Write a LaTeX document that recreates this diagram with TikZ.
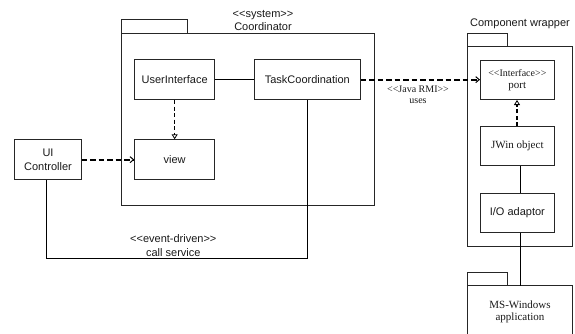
\documentclass[tikz,border=0pt]{standalone}
\usepackage{fontspec}
\setmainfont{Liberation Serif}
\setsansfont{Liberation Sans}
\usetikzlibrary{arrows.meta}
% guillemet-style stereotype brackets, kept as two separate characters
\newcommand\stl{<\kern0pt<}
\newcommand\stg{>\kern0pt>}
\tikzset{
  box/.style={draw=black!85, line width=0.7pt, rectangle, inner sep=0pt, anchor=north west},
  sans/.style={font=\sffamily\fontsize{11}{13.3}\selectfont, align=center, text=black!90},
  serif/.style={font=\rmfamily\fontsize{11}{12}\selectfont, align=center, text=black!90},
  pkg/.style={draw=black!85, line width=0.7pt},
  link/.style={draw=black, line width=0.7pt},
  uses/.style={draw=black, line width=1.7pt, dash pattern=on 5.5pt off 3pt,
    -{Straight Barb[length=3.5pt, width=6pt, line width=1pt]}},
  realize/.style={draw=black, line width=1.1pt, dash pattern=on 4pt off 2.5pt,
    -{Triangle[open, length=5pt, width=6pt, line width=0.8pt]}},
}
\begin{document}
\begin{tikzpicture}[x=1pt, y=-1pt]
\useasboundingbox (0,0) rectangle (575,333);

% Coordinator package
\draw[pkg] (121.5,19.5) rectangle (187.5,33);
\draw[pkg] (121.5,33) rectangle (374,205.5);
\node[sans] (coordtitle) at (263,20.5) {\stl system\stg\\Coordinator};

% Component wrapper package
\draw[pkg] (467.5,33.5) rectangle (507.5,46);
\draw[pkg] (467.5,46) rectangle (572.5,246);
\node[sans] (cwtitle) at (520,24) {Component wrapper};

% MS-Windows application package
\draw[pkg] (467.5,272.5) rectangle (507.5,285.5);
\draw[pkg] (467.5,285.5) rectangle (572.5,340);
\node[serif] (mswin) at (520,311.5) {MS-Windows\\application};

% classes
\node[box, minimum width=80pt, minimum height=40pt, sans] (ui) at (134.3,59.3) {UserInterface};
\node[box, minimum width=106pt, minimum height=40pt, sans] (task) at (254,59.3) {TaskCoordination};
\node[box, minimum width=80pt, minimum height=40pt, sans] (view) at (134.3,139.3) {view};
\node[box, minimum width=66.7pt, minimum height=40pt, sans] (ctrl) at (14.3,139.3) {UI\\Controller};
\node[box, minimum width=74pt, minimum height=39.3pt, serif] (port) at (480,60) {{\fontsize{10}{12}\selectfont\stl Interface\stg}\\port};
\node[box, minimum width=74pt, minimum height=39.3pt, serif] (jwin) at (480,126) {JWin object};
\node[box, minimum width=74pt, minimum height=39.3pt, sans] (io) at (480,192.7) {I/O adaptor};
\coordinate (mstop) at (520.7,285.5);

% connectors
\draw[link] (ui) -- (task);
\draw[realize] (ui) -- (view);
\draw[uses] (ctrl) -- (view);
\draw[uses] (task.east) -- (task.east -| port.west);
\draw[realize] (jwin.north -| 517,0) -- (port.south -| 517,0);
\draw[link] (jwin.south -| 520.7,0) -- (io.north -| 520.7,0);
\draw[link] (io.south -| 520.7,0) -- (mstop);
\draw[link] (task.south -| 307,0) -- (307,258.3) -- (46.7,258.3) -- (ctrl.south -| 46.7,0);

% connector labels
\node[serif, font=\rmfamily\fontsize{10}{10.5}\selectfont] (rmi) at (418,95) {\stl Java RMI\stg\\uses};
\node[sans] (evt) at (173.3,245.7) {\stl event-driven\stg\\call service};
\end{tikzpicture}
\end{document}
